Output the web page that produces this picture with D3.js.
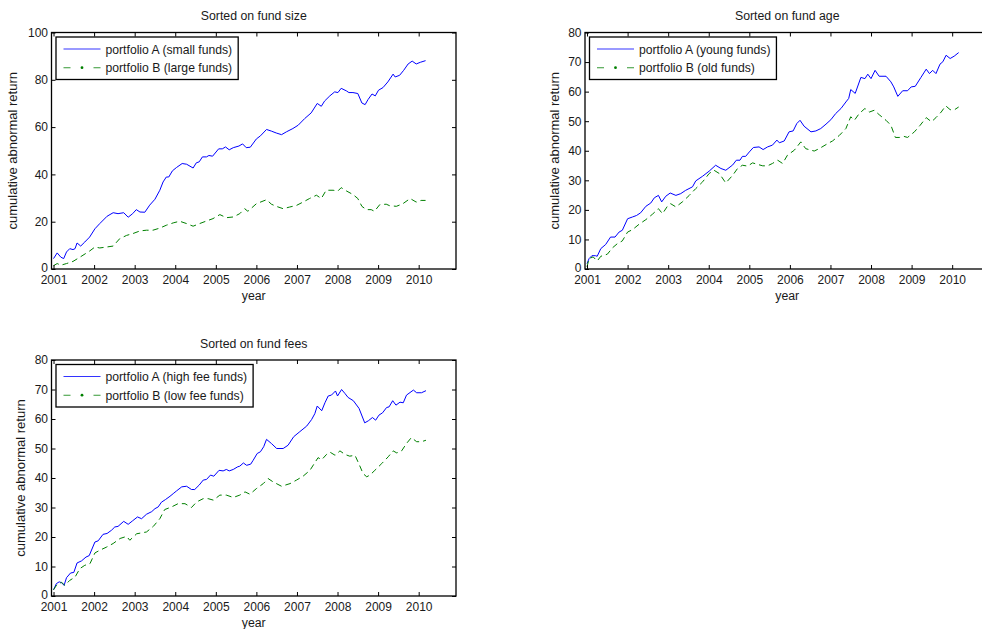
<!DOCTYPE html>
<html>
<head>
<meta charset="utf-8">
<script src="https://cdn.jsdelivr.net/npm/d3@7"></script>
<style>
  html, body { margin: 0; padding: 0; background: #fff; }
  svg { display: block; }
  text { font-family: "Liberation Sans", Arial, Helvetica, sans-serif; fill: #1a1a1a; }
</style>
</head>
<body>
<svg id="chart" width="982" height="629"></svg>
<script>
// Cumulative abnormal returns of two portfolios, sorted on three fund characteristics.
// Each point is [years since January 2001, cumulative abnormal return].
const START_YEAR = 2001;
const yearTicks = [2001, 2002, 2003, 2004, 2005, 2006, 2007, 2008, 2009, 2010];
const ticksTo100 = [0, 20, 40, 60, 80, 100];
const ticksTo80 = [0, 10, 20, 30, 40, 50, 60, 70, 80];

const panelTitles = ["Sorted on fund size", "Sorted on fund age", "Sorted on fund fees"];
const seriesNamesA = ["portfolio A (small funds)", "portfolio A (young funds)", "portfolio A (high fee funds)"];
const seriesNamesB = ["portfolio B (large funds)", "portfolio B (old funds)", "portfolio B (low fee funds)"];

const sizeSmall = [[0.00,4.4],[0.09,6.8],[0.18,5.0],[0.25,4.4],[0.32,7.2],[0.40,8.6],[0.48,8.2],[0.53,8.6],[0.58,11.0],[0.67,9.7],[0.77,11.4],[0.89,13.5],[1.02,17.0],[1.14,19.2],[1.32,22.3],[1.47,23.8],[1.59,23.4],[1.73,23.8],[1.84,21.9],[1.95,23.4],[2.04,25.1],[2.13,24.1],[2.25,24.0],[2.37,27.0],[2.50,29.5],[2.62,33.3],[2.70,36.8],[2.78,38.9],[2.84,38.9],[2.93,41.5],[3.03,42.9],[3.17,44.6],[3.28,44.3],[3.44,42.7],[3.52,44.9],[3.59,45.3],[3.67,47.4],[3.77,47.4],[3.83,48.0],[3.92,47.7],[4.07,50.8],[4.16,50.8],[4.24,51.6],[4.33,50.4],[4.43,51.3],[4.57,52.0],[4.66,52.9],[4.75,51.3],[4.85,51.5],[5.00,55.0],[5.10,56.3],[5.25,59.0],[5.37,58.3],[5.49,57.5],[5.62,56.8],[5.74,58.0],[5.90,59.4],[6.03,60.8],[6.19,63.6],[6.35,66.0],[6.50,70.0],[6.60,68.8],[6.68,71.0],[6.81,73.2],[6.93,74.9],[7.01,74.6],[7.09,76.4],[7.22,75.3],[7.28,74.6],[7.38,74.6],[7.50,74.2],[7.60,70.2],[7.68,69.5],[7.75,71.6],[7.85,74.0],[7.93,73.2],[8.01,75.6],[8.12,76.7],[8.24,79.1],[8.37,82.4],[8.42,81.2],[8.53,81.9],[8.63,84.0],[8.74,86.7],[8.84,87.9],[8.94,86.7],[9.04,87.4],[9.17,88.1]];

const sizeLarge = [[0.00,1.4],[0.09,2.3],[0.18,1.6],[0.32,2.3],[0.48,3.2],[0.65,5.0],[0.89,7.6],[1.02,9.3],[1.14,8.9],[1.31,9.3],[1.47,9.7],[1.63,12.8],[1.80,14.2],[1.96,15.0],[2.13,16.1],[2.29,16.4],[2.45,16.4],[2.62,17.3],[2.78,18.5],[2.95,19.5],[3.11,20.2],[3.28,19.2],[3.44,18.1],[3.60,19.2],[3.77,20.3],[3.93,21.3],[4.10,23.0],[4.26,21.7],[4.43,22.0],[4.59,23.4],[4.71,25.5],[4.79,24.4],[5.00,27.6],[5.25,29.3],[5.37,27.4],[5.49,26.5],[5.66,25.5],[5.82,26.2],[5.99,26.9],[6.15,28.3],[6.31,29.8],[6.48,31.2],[6.60,29.8],[6.72,33.3],[6.89,33.3],[7.01,33.0],[7.09,34.4],[7.22,33.0],[7.38,31.5],[7.50,29.8],[7.60,26.5],[7.71,25.1],[7.83,25.1],[7.91,24.4],[8.04,27.2],[8.20,27.4],[8.28,26.8],[8.45,26.5],[8.61,27.6],[8.79,29.8],[8.94,28.3],[9.06,29.0],[9.17,29.0]];

const ageYoung = [[0.00,1.8],[0.05,3.5],[0.12,4.5],[0.21,4.5],[0.25,4.3],[0.34,6.9],[0.46,8.3],[0.58,10.8],[0.69,10.8],[0.79,12.5],[0.87,13.1],[1.00,17.0],[1.12,17.6],[1.22,18.1],[1.32,19.0],[1.45,21.2],[1.57,22.3],[1.66,24.1],[1.76,24.9],[1.84,22.7],[1.94,24.6],[2.05,25.7],[2.19,24.9],[2.31,25.5],[2.43,26.6],[2.60,27.8],[2.68,29.8],[2.85,31.4],[3.01,33.1],[3.17,35.1],[3.30,34.0],[3.42,33.4],[3.59,35.2],[3.68,36.8],[3.77,36.8],[3.83,38.1],[3.91,38.1],[4.00,39.6],[4.10,41.1],[4.24,41.3],[4.34,40.4],[4.45,41.3],[4.57,41.9],[4.68,43.6],[4.74,42.7],[4.86,43.3],[4.98,46.4],[5.08,46.7],[5.17,49.2],[5.25,50.3],[5.35,48.3],[5.52,46.4],[5.64,46.7],[5.76,47.5],[5.89,49.0],[6.01,50.5],[6.13,52.6],[6.26,54.3],[6.38,56.5],[6.45,57.7],[6.50,60.7],[6.61,59.4],[6.75,64.8],[6.85,64.4],[6.92,65.9],[7.00,64.4],[7.10,67.2],[7.20,65.2],[7.37,65.2],[7.49,63.3],[7.56,61.6],[7.66,58.4],[7.78,60.3],[7.90,60.3],[7.99,61.6],[8.09,61.8],[8.23,64.8],[8.36,67.6],[8.44,66.1],[8.52,67.2],[8.60,66.1],[8.70,69.3],[8.77,70.1],[8.85,72.3],[8.95,71.2],[9.05,72.0],[9.16,73.2]];

const ageOld = [[0.00,0.7],[0.05,3.5],[0.15,4.1],[0.25,2.7],[0.34,4.3],[0.50,5.0],[0.63,7.2],[0.75,8.6],[0.87,9.5],[1.00,12.5],[1.12,13.3],[1.28,15.1],[1.45,16.7],[1.61,18.5],[1.76,20.4],[1.86,18.7],[1.98,21.2],[2.06,22.1],[2.19,21.0],[2.35,22.7],[2.52,24.9],[2.68,27.2],[2.85,29.5],[3.01,32.3],[3.13,33.4],[3.26,32.3],[3.42,29.1],[3.59,31.7],[3.71,34.0],[3.83,35.1],[3.96,34.8],[4.08,35.9],[4.20,35.4],[4.33,34.9],[4.45,34.9],[4.57,35.7],[4.70,36.8],[4.82,35.7],[4.94,38.5],[5.11,40.2],[5.27,43.0],[5.39,40.7],[5.60,39.9],[5.72,40.7],[5.93,42.4],[6.05,43.3],[6.22,45.2],[6.38,47.5],[6.50,51.5],[6.59,50.3],[6.71,52.6],[6.85,54.3],[6.96,53.1],[7.08,53.7],[7.20,52.2],[7.37,50.3],[7.49,48.6],[7.60,44.5],[7.70,44.5],[7.80,44.9],[7.90,44.5],[8.07,46.4],[8.21,48.6],[8.36,51.2],[8.49,49.8],[8.60,51.2],[8.73,53.1],[8.84,55.2],[8.95,53.9],[9.06,53.9],[9.16,54.8]];

const feeHigh = [[0.00,2.1],[0.07,4.2],[0.14,4.8],[0.20,4.5],[0.26,3.6],[0.32,6.2],[0.42,7.8],[0.50,8.0],[0.58,11.2],[0.69,11.9],[0.80,13.2],[0.88,13.7],[1.02,18.3],[1.10,18.7],[1.22,20.9],[1.32,21.2],[1.43,22.3],[1.51,23.4],[1.59,23.6],[1.73,25.3],[1.84,24.3],[1.95,25.5],[2.07,26.8],[2.17,26.2],[2.29,27.7],[2.42,28.6],[2.50,29.6],[2.58,30.2],[2.66,31.8],[2.76,32.7],[2.87,33.8],[2.95,34.7],[3.03,35.6],[3.16,37.0],[3.28,37.2],[3.40,36.1],[3.48,36.1],[3.59,37.6],[3.69,39.3],[3.77,39.5],[3.87,41.0],[3.95,40.6],[4.08,42.6],[4.18,42.4],[4.26,42.9],[4.33,42.4],[4.43,42.9],[4.54,43.8],[4.59,44.0],[4.68,45.1],[4.76,44.3],[4.86,44.7],[4.92,46.0],[5.02,48.3],[5.10,48.9],[5.18,50.6],[5.25,53.1],[5.37,51.7],[5.50,50.0],[5.66,50.0],[5.78,51.1],[5.92,54.0],[6.07,55.7],[6.24,57.6],[6.36,59.8],[6.44,61.8],[6.50,64.4],[6.61,62.8],[6.69,65.5],[6.77,67.8],[6.85,68.1],[6.95,69.5],[7.00,67.8],[7.10,70.0],[7.18,68.7],[7.26,67.3],[7.39,66.2],[7.53,63.6],[7.67,58.7],[7.76,59.4],[7.86,60.5],[7.94,59.6],[8.02,61.3],[8.11,62.1],[8.21,63.9],[8.27,64.1],[8.36,66.2],[8.44,64.7],[8.54,65.7],[8.62,65.5],[8.70,68.1],[8.87,69.8],[8.95,68.9],[9.07,68.9],[9.18,69.6]];

const feeLow = [[0.00,2.1],[0.09,4.0],[0.20,4.6],[0.28,3.6],[0.40,5.3],[0.53,6.4],[0.65,9.3],[0.77,10.4],[0.90,11.0],[1.02,14.6],[1.14,15.5],[1.31,16.6],[1.47,17.8],[1.64,19.5],[1.80,20.2],[1.88,18.9],[2.05,21.1],[2.17,21.4],[2.29,21.7],[2.46,23.6],[2.62,26.2],[2.74,29.3],[2.91,30.2],[3.07,31.3],[3.24,31.3],[3.40,30.0],[3.53,31.9],[3.69,33.0],[3.81,33.0],[3.94,32.5],[4.10,34.2],[4.26,34.2],[4.43,33.4],[4.59,34.2],[4.72,35.3],[4.84,34.5],[5.00,36.4],[5.17,38.1],[5.29,39.8],[5.41,38.7],[5.62,37.2],[5.83,38.1],[5.99,39.3],[6.15,40.6],[6.32,42.6],[6.52,46.9],[6.61,46.2],[6.73,48.0],[6.81,48.8],[6.94,47.7],[7.06,49.2],[7.18,48.0],[7.30,47.4],[7.43,47.7],[7.53,44.7],[7.63,41.5],[7.72,40.4],[7.80,41.0],[7.92,42.6],[8.09,44.9],[8.25,47.2],[8.37,49.2],[8.46,48.5],[8.58,49.2],[8.70,51.7],[8.82,53.7],[8.95,52.3],[9.07,52.3],[9.18,52.8]];

// Panel geometry (pixels) – kept apart from the data.
const layout = [
  { left: 51.5, right: 456,   top: 32.5, bottom: 269, yLabelX: 17,  yMax: 100, yTicks: ticksTo100 },
  { left: 585,  right: 989.5, top: 32.5, bottom: 269, yLabelX: 559, yMax: 80,  yTicks: ticksTo80 },
  { left: 51.5, right: 456,   top: 360,  bottom: 596, yLabelX: 25,  yMax: 80,  yTicks: ticksTo80 }
];
const seriesA = [sizeSmall, ageYoung, feeHigh];
const seriesB = [sizeLarge, ageOld, feeLow];

const TICK_FONT = 12;
const TITLE_FONT = 12.3;
const LEGEND_FONT = 12.2;
const YLABEL_FONT = 13;
const BLUE = "#0000ff";
const GREEN = "#008000";

const svg = d3.select("#chart");

layout.forEach((box, i) => {
  const g = svg.append("g");
  const x = d3.scaleLinear().domain([2000.95, 2010.92]).range([box.left, box.right]);
  const y = d3.scaleLinear().domain([0, box.yMax]).range([box.bottom, box.top]);

  const line = d3.line()
    .x(d => x(START_YEAR + d[0]))
    .y(d => y(d[1]));

  g.append("path").datum(seriesA[i])
    .attr("d", line).attr("fill", "none")
    .attr("stroke", BLUE).attr("stroke-width", 1).attr("stroke-linejoin", "round");
  g.append("path").datum(seriesB[i])
    .attr("d", line).attr("fill", "none")
    .attr("stroke", GREEN).attr("stroke-width", 1).attr("stroke-dasharray", "6,4");

  // Inward ticks on all four sides, labels only on bottom and left
  const bottomAxis = g.append("g").attr("transform", `translate(0,${box.bottom})`)
    .call(d3.axisBottom(x).tickValues(yearTicks).tickFormat(d3.format("d")).tickSize(-4).tickPadding(6.5));
  const topAxis = g.append("g").attr("transform", `translate(0,${box.top})`)
    .call(d3.axisTop(x).tickValues(yearTicks).tickFormat("").tickSize(-4));
  const leftAxis = g.append("g").attr("transform", `translate(${box.left},0)`)
    .call(d3.axisLeft(y).tickValues(box.yTicks).tickSize(-4).tickPadding(3.5));
  const rightAxis = g.append("g").attr("transform", `translate(${box.right},0)`)
    .call(d3.axisRight(y).tickValues(box.yTicks).tickFormat("").tickSize(-4));

  [bottomAxis, topAxis, leftAxis, rightAxis].forEach(a => {
    a.select(".domain").remove();
    a.selectAll(".tick line").attr("stroke", "#000");
    a.selectAll("text").attr("font-size", TICK_FONT).attr("font-family", null).attr("fill", "#1a1a1a");
  });
  // keep the bottom-left "0" clear of the first year label
  leftAxis.selectAll(".tick text").filter(d => d === 0).attr("dy", "0.2em");

  g.append("rect")
    .attr("x", box.left).attr("y", box.top)
    .attr("width", box.right - box.left).attr("height", box.bottom - box.top)
    .attr("fill", "none").attr("stroke", "#000").attr("stroke-width", 1.3);

  // Title, axis labels
  g.append("text")
    .attr("x", (box.left + box.right) / 2).attr("y", box.top - 12.5)
    .attr("text-anchor", "middle").attr("font-size", TITLE_FONT)
    .text(panelTitles[i]);
  g.append("text")
    .attr("x", (box.left + box.right) / 2).attr("y", box.bottom + 30.5)
    .attr("text-anchor", "middle").attr("font-size", TITLE_FONT)
    .text("year");
  g.append("text")
    .attr("transform", `translate(${box.yLabelX},${(box.top + box.bottom) / 2}) rotate(-90)`)
    .attr("text-anchor", "middle").attr("font-size", YLABEL_FONT)
    .text("cumulative abnormal return");

  // Legend
  const lg = g.append("g").attr("transform", `translate(${box.left + 4.5},${box.top + 4.5})`);
  const frame = lg.append("rect").attr("fill", "#fff").attr("stroke", "#000").attr("stroke-width", 1.3);
  const rows = [
    { name: seriesNamesA[i], color: BLUE, dashed: false },
    { name: seriesNamesB[i], color: GREEN, dashed: true }
  ];
  let maxW = 0;
  rows.forEach((r, k) => {
    const cy = 12 + k * 18.7;
    lg.append("line")
      .attr("x1", 7.5).attr("x2", 44.5).attr("y1", cy).attr("y2", cy)
      .attr("stroke", r.color).attr("stroke-width", 1.1).attr("stroke-opacity", 0.8)
      .attr("stroke-dasharray", r.dashed ? "7,23,7" : null);
    if (r.dashed) {
      lg.append("circle").attr("cx", 26).attr("cy", cy).attr("r", 1.4).attr("fill", r.color);
    }
    const t = lg.append("text")
      .attr("x", 49.5).attr("y", cy + 4.5)
      .attr("font-size", LEGEND_FONT)
      .text(r.name);
    maxW = Math.max(maxW, t.node().getComputedTextLength());
  });
  frame.attr("x", 0).attr("y", 0).attr("width", 49.5 + maxW + 6).attr("height", 42.5);
});
</script>
</body>
</html>
